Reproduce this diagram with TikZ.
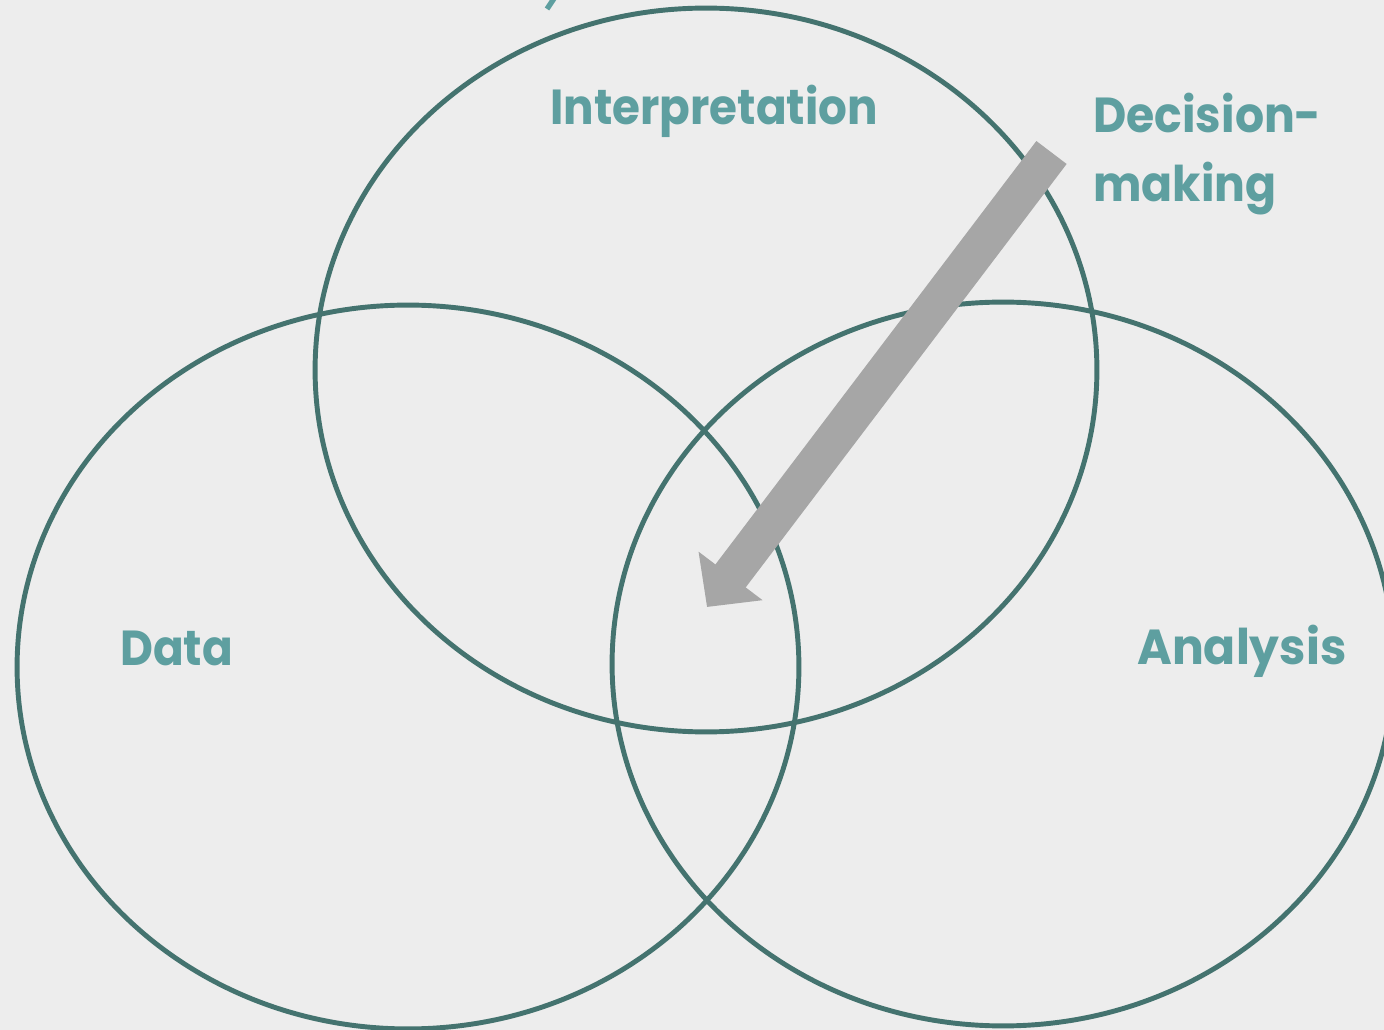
\documentclass[tikz,border=0pt]{standalone}
\usepackage{fontspec}
\setmainfont{Poppins}
\usetikzlibrary{shapes.geometric,arrows.meta}
\definecolor{bg}{HTML}{EDEDED}
\definecolor{ring}{HTML}{44736F}
\definecolor{lbl}{HTML}{5E9FA0}
\definecolor{arr}{HTML}{A6A6A6}
\begin{document}
\begin{tikzpicture}[x=0.02cm,y=-0.02cm,
  ring/.style={draw=ring,line width=2.8pt,ellipse,inner sep=0pt,minimum width=15.64cm,minimum height=14.48cm},
  lab/.style={text=lbl,font=\fontsize{28}{33}\selectfont\bfseries,anchor=base west,inner sep=0pt}]
\fill[bg] (0,0) rectangle (1384,1030);
\useasboundingbox (0,0) rectangle (1384,1030);
\clip (0,0) rectangle (1384,1030);
\node[ring] (interp) at (706,370) {};
\node[ring] (data) at (408,667) {};
\node[ring] (analysis) at (1003,664) {};
\coordinate (tail) at (1051.5,152.5);
\coordinate (tip) at (707,607);
\draw[arr,line width=0.76cm,-{Triangle[length=0.78cm,width=1.56cm]}] (tail) -- (tip);
\coordinate (fa) at (547,9);
\coordinate (fb) at (555,-3);
\draw[lbl,line width=3pt] (fa) -- (fb);
\node[lab] (tInterp) at (550,125) {\scalebox{0.92}[1]{Interpretation}};
\node[lab] (tDec) at (1093,133) {\scalebox{0.93}[1]{Decision-}};
\node[lab] (tMak) at (1093,202) {\scalebox{0.93}[1]{making}};
\node[lab] (tData) at (120,665) {\scalebox{0.92}[1]{Data}};
\node[lab] (tAna) at (1137,664) {\scalebox{0.96}[1]{Analysis}};
\end{tikzpicture}
\end{document}
